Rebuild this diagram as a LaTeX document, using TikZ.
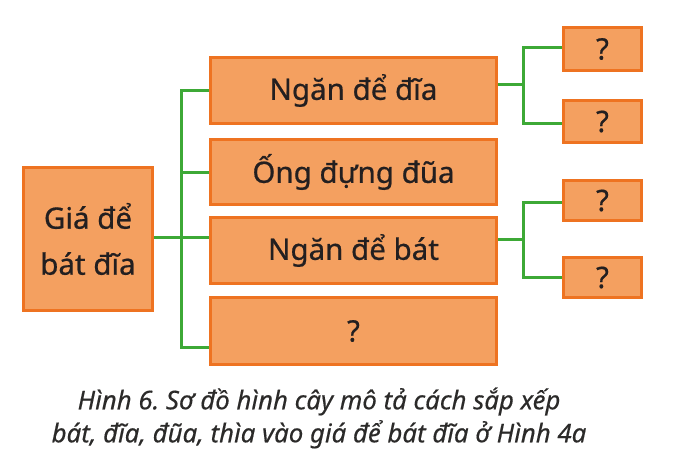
\documentclass[tikz,border=0pt]{standalone}
\usepackage{fontspec}
\setmainfont{Noto Sans}
\newfontfamily\boxfont[FakeBold=0.6]{Noto Sans}
\newfontfamily\capfont[FakeBold=0.4]{Noto Sans}
\frenchspacing
\begin{document}
\begin{tikzpicture}[x=1pt,y=-1pt,
  box/.style={draw=boxline, fill=boxfill, line width=3pt, inner sep=0pt,
    text=txt, font=\boxfont\fontsize{29.5}{36}\selectfont, align=center},
  conn/.style={draw=lineg, line width=3pt},
  captionstyle/.style={text=captxt, font=\capfont\itshape\fontsize{25.8}{33}\selectfont, align=center}]
\definecolor{boxline}{HTML}{EE7321}
\definecolor{boxfill}{HTML}{F4A060}
\definecolor{lineg}{HTML}{3DA936}
\definecolor{txt}{HTML}{231F20}
\definecolor{captxt}{HTML}{2B2A29}
\useasboundingbox (0,0) rectangle (674,464);
% root
\node[box, minimum width=129pt, minimum height=143pt, font=\boxfont\fontsize{29.5}{46}\selectfont] (root) at (88,239) {Giá để\\bát đĩa};
% middle
\node[box, minimum width=286pt, minimum height=66pt] (b1) at (353.5,90.5) {Ngăn để đĩa};
\node[box, minimum width=286pt, minimum height=65pt] (b2) at (353.5,172) {Ống đựng đũa};
\node[box, minimum width=286pt, minimum height=66pt] (b3) at (353.5,250.5) {Ngăn để bát};
\node[box, minimum width=286pt, minimum height=67pt] (b4) at (353.5,331) {?};
% small
\node[box, minimum width=78pt, minimum height=43pt] (s1) at (602.5,49) {?};
\node[box, minimum width=78pt, minimum height=42pt] (s2) at (602.5,121.5) {?};
\node[box, minimum width=78pt, minimum height=40pt] (s3) at (602.5,200.5) {?};
\node[box, minimum width=78pt, minimum height=40pt] (s4) at (602.5,277.5) {?};
% junctions
\coordinate (j) at (181,237);
\coordinate (jt) at (181,90);
\coordinate (jb) at (181,347);
\coordinate (k1) at (523,84);
\coordinate (k1t) at (523,47);
\coordinate (k1b) at (523,123);
\coordinate (k3) at (523,239);
\coordinate (k3t) at (523,202);
\coordinate (k3b) at (523,277);
% connectors
\draw[conn] (j -| root.east) -- (j -| b3.west);
\draw[conn] (jt -| b1.west) -- (jt) -- (jb) -- (jb -| b4.west);
\draw[conn] (b2.west) -- (b2.west -| j);
\draw[conn] (k1 -| b1.east) -- (k1);
\draw[conn] (k1t -| s1.west) -- (k1t) -- (k1b) -- (k1b -| s2.west);
\draw[conn] (k3 -| b3.east) -- (k3);
\draw[conn] (k3t -| s3.west) -- (k3t) -- (k3b) -- (k3b -| s4.west);
% caption
\node[captionstyle] (caption) at (319,418) {Hình 6. Sơ đồ hình cây mô tả cách sắp xếp\\bát, đĩa, đũa, thìa vào giá để bát đĩa ở Hình 4a};
\end{tikzpicture}
\end{document}
